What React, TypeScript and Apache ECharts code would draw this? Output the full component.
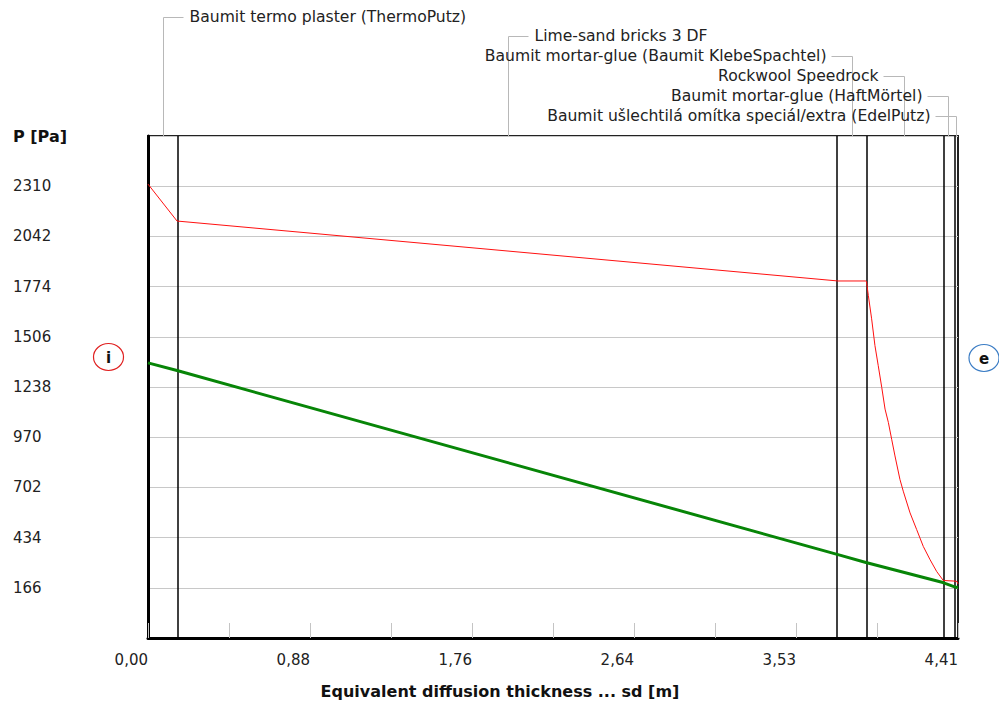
import React, { useEffect, useRef } from 'react';
import * as echarts from 'echarts';

// ---------- DATA ----------
const layerNames = [
  'Baumit termo plaster (ThermoPutz)',
  'Lime-sand bricks 3 DF',
  'Baumit mortar-glue (Baumit KlebeSpachtel)',
  'Rockwool Speedrock',
  'Baumit mortar-glue (HaftMörtel)',
  'Baumit ušlechtilá omítka speciál/extra (EdelPutz)',
];
// cumulative equivalent diffusion thickness at layer boundaries [m]
const layerBounds = [0, 0.158, 3.755, 3.907, 4.326, 4.386, 4.408];

// saturated water vapour pressure [sd m, Pa]
const saturationSd = [0, 0.158, 3.755, 3.907, 3.91, 3.92, 3.938, 3.956, 3.974, 3.993, 4.011, 4.029, 4.047, 4.065, 4.092, 4.11, 4.147, 4.183, 4.219, 4.256, 4.292, 4.328, 4.386, 4.402, 4.408];
const saturationP = [2321, 2124, 1804, 1804, 1801, 1727, 1602, 1459, 1352, 1236, 1120, 1049, 959, 870, 745, 682, 566, 477, 387, 316, 253, 205, 202, 200, 187];

// partial water vapour pressure [sd m, Pa]
const partialSd = [0, 0.158, 3.755, 3.907, 4.326, 4.386, 4.408];
const partialP = [1367, 1326, 343, 301, 194, 172, 166];

// axes
const yMin = -102;
const yMax = 2578;
const yStep = 268;
const xMax = 4.408;
const xStep = xMax / 5;

const yAxisTitle = 'P [Pa]';
const xAxisTitle = 'Equivalent diffusion thickness ... sd [m]';

// ---------- LAYOUT ----------
const FONT = 'DejaVu Sans';
const annotationRows = [17, 36, 56, 76, 96, 116];
const annotationSide = ['right', 'right', 'left', 'left', 'left', 'left'];

export default function App() {
  const ref = useRef<HTMLDivElement>(null);

  useEffect(() => {
    if (!ref.current) return;
    const chart = echarts.init(ref.current, undefined, { renderer: 'svg' });

    const satData = saturationSd.map((x, i) => [x, saturationP[i]]);
    const partData = partialSd.map((x, i) => [x, partialP[i]]);

    chart.setOption({
      animation: false,
      backgroundColor: '#ffffff',
      grid: {
        left: 148,
        right: 41,
        top: 136,
        bottom: 68,
        show: true,
        borderColor: '#222',
        borderWidth: 2,
        backgroundColor: '#fff',
      },
      xAxis: {
        type: 'value',
        min: 0,
        max: xMax,
        interval: xStep,
        axisLine: { show: true, onZero: false, lineStyle: { color: '#000', width: 3 } },
        axisTick: { show: true, inside: true, length: 15, lineStyle: { color: '#c4c4c4', width: 1 } },
        minorTick: { show: true, splitNumber: 2, length: 15, lineStyle: { color: '#c4c4c4', width: 1 } },
        splitLine: { show: false },
        axisLabel: {
          margin: 14,
          align: 'right',
          fontFamily: FONT,
          fontSize: 15,
          color: '#222',
          formatter: (v: number) => v.toFixed(2).replace('.', ','),
          showMaxLabel: true,
        },
      },
      yAxis: {
        type: 'value',
        min: yMin,
        max: yMax,
        interval: yStep,
        axisLine: { show: true, onZero: false, lineStyle: { color: '#000', width: 3 } },
        axisTick: { show: false },
        splitLine: { show: true, lineStyle: { color: '#c8c8c8', width: 1 } },
        axisLabel: {
          showMinLabel: false,
          showMaxLabel: false,
          align: 'left',
          margin: 135,
          fontFamily: FONT,
          fontSize: 15,
          color: '#222',
          formatter: (v: number) => String(Math.round(v)),
        },
      },
      series: [
        {
          type: 'line',
          name: 'saturation',
          data: satData,
          symbol: 'none',
          lineStyle: { color: '#ff1010', width: 1 },
          z: 3,
          markLine: {
            silent: true,
            symbol: ['none', 'none'],
            label: { show: false },
            lineStyle: { color: '#000', width: 1.5, type: 'solid' },
            data: layerBounds.slice(1, -1).map((v) => ({ xAxis: v })),
            z: 2,
          },
        },
        {
          type: 'line',
          name: 'partial',
          data: partData,
          symbol: 'none',
          lineStyle: { color: '#078507', width: 3 },
          z: 4,
        },
      ],
    });

    // annotations positioned from layer bounds through the axis scale
    const top = chart.convertToPixel({ yAxisIndex: 0 }, yMax) as number;
    const elements: any[] = [];
    layerNames.forEach((name, i) => {
      const mid = (layerBounds[i] + layerBounds[i + 1]) / 2;
      const mx = Math.round(chart.convertToPixel({ xAxisIndex: 0 }, mid) as number) + 0.5;
      const y = annotationRows[i] + 0.5;
      const right = annotationSide[i] === 'right';
      elements.push({
        type: 'polyline',
        silent: true,
        shape: { points: [[right ? mx + 20 : mx - 21, y], [mx, y], [mx, top]] },
        style: { stroke: '#b8b8b8', lineWidth: 1, fill: 'none' },
      });
      elements.push({
        type: 'text',
        x: right ? mx + 26 : mx - 26,
        y: annotationRows[i],
        style: {
          text: name,
          fontFamily: FONT,
          fontSize: 15.6,
          fill: '#222',
          align: right ? 'left' : 'right',
          verticalAlign: 'middle',
        },
      });
    });

    elements.push(
      {
        type: 'text',
        x: 13,
        y: 136,
        style: { text: yAxisTitle, fontFamily: FONT, fontSize: 16, fontWeight: 'bold', fill: '#111', align: 'left', verticalAlign: 'middle' },
      },
      {
        type: 'text',
        x: 500,
        y: 691,
        style: { text: xAxisTitle, fontFamily: FONT, fontSize: 16, fontWeight: 'bold', fill: '#111', align: 'center', verticalAlign: 'middle' },
      },
      {
        type: 'ellipse',
        shape: { cx: 108.5, cy: 357, rx: 15, ry: 13.5 },
        style: { fill: 'none', stroke: '#e02020', lineWidth: 1.2 },
      },
      {
        type: 'text',
        x: 108.5,
        y: 358,
        style: { text: 'i', fontFamily: FONT, fontSize: 15, fontWeight: 'bold', fill: '#111', align: 'center', verticalAlign: 'middle' },
      },
      {
        type: 'ellipse',
        shape: { cx: 984, cy: 358, rx: 15, ry: 13.5 },
        style: { fill: 'none', stroke: '#3a7cc4', lineWidth: 1.2 },
      },
      {
        type: 'text',
        x: 984,
        y: 359,
        style: { text: 'e', fontFamily: FONT, fontSize: 15, fontWeight: 'bold', fill: '#111', align: 'center', verticalAlign: 'middle' },
      }
    );

    chart.setOption({ graphic: { elements } });

    return () => chart.dispose();
  }, []);

  return (
    <div
      ref={ref}
      style={{ position: 'absolute', left: 0, top: 0, width: 999, height: 706, background: '#fff' }}
    />
  );
}
